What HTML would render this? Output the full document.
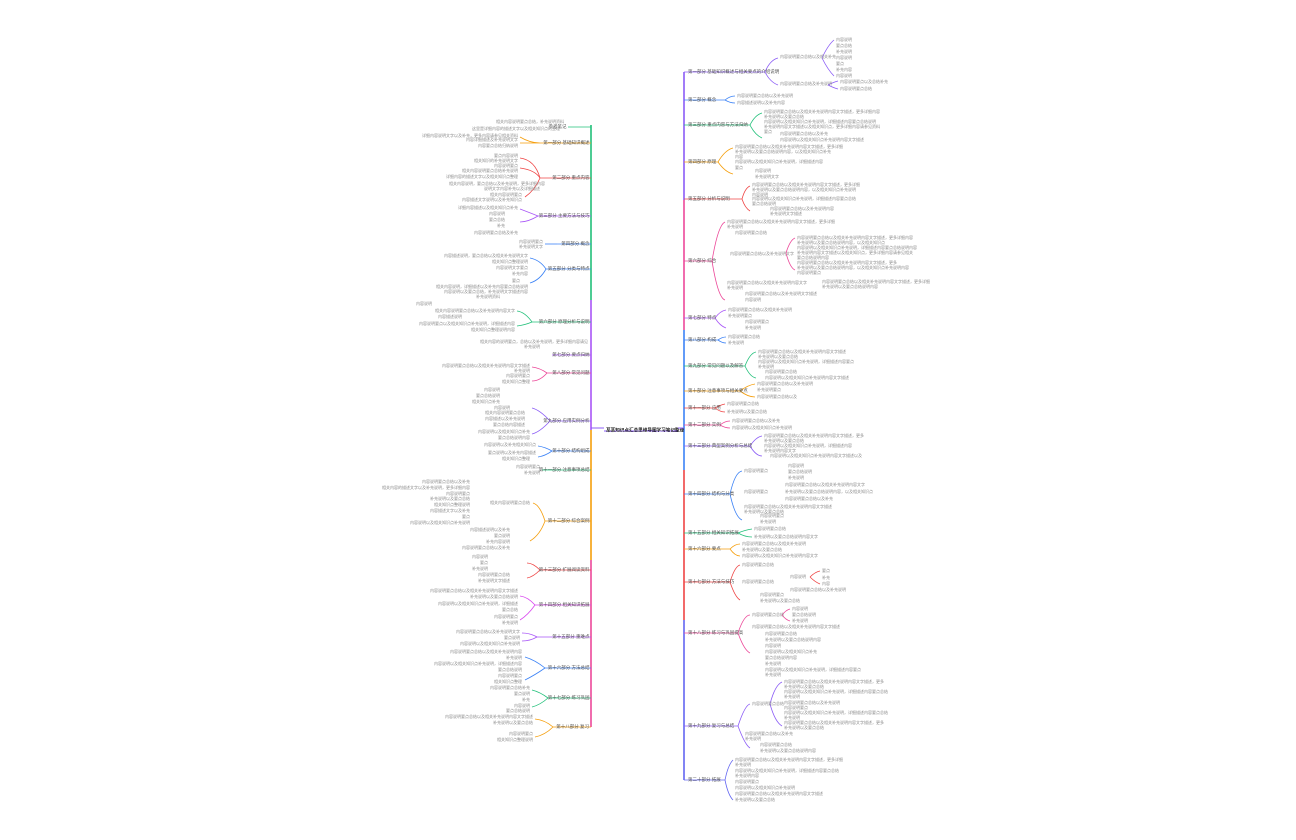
<!DOCTYPE html>
<html><head><meta charset="utf-8"><style>
html,body{margin:0;padding:0;background:#fff;width:1296px;height:840px;overflow:hidden}
svg text{font-family:"Liberation Sans","Noto Sans CJK SC",sans-serif;transform-box:fill-box;transform:scale(.5)}
.l text,.b text{transform-origin:0 100%}
.l[text-anchor="end"] text,.b[text-anchor="end"] text{transform-origin:100% 100%}
.l{font-size:8px;fill:#8a8a8a}
.b{font-size:9px;fill:#555}
.c{font-size:9.2px;fill:#222;font-weight:bold;transform-origin:0 100%}
</style></head><body>
<svg width="1296" height="840" viewBox="0 0 1296 840" xmlns="http://www.w3.org/2000/svg" fill="none">
<!-- spines -->
<g stroke-width="1.6">
<path d="M591 125V300" stroke="#22c07a"/><path d="M591 300V430" stroke="#a855f7"/><path d="M591 430V560" stroke="#f59e0b"/><path d="M591 560V727" stroke="#ec4899"/>
<path d="M684 72V200" stroke="#8b5cf6"/><path d="M684 200V330" stroke="#ec4899"/><path d="M684 330V470" stroke="#3b82f6"/><path d="M684 470V620" stroke="#ef4444"/><path d="M684 620V780" stroke="#6366f1"/>
</g>
<!-- center -->
<line x1="604" y1="431" x2="678" y2="431" stroke="#8b5cf6" stroke-width="1"/>
<text class="c" x="606" y="429.5">某某知识点汇总思维导图学习笔记整理</text>
<path d="M591 428H604M678 428H684" stroke="#8b5cf6" stroke-width="1"/>

<g id="left">
<g stroke-width="0.8">
<path d="M591 127Q580 127 568 127" stroke="#22c07a"/>
<path d="M591 143H540" stroke="#f59e0b"/><path d="M540 143Q530 143 520 137M540 143H520" stroke="#f59e0b"/>
<path d="M591 178H540" stroke="#ef4444"/><path d="M540 178Q535 160 520 158M540 178Q535 170 520 168M540 178Q535 190 525 197" stroke="#ef4444"/>
<path d="M591 216H538" stroke="#a855f7"/><path d="M538 216Q528 212 520 209M538 216Q528 222 520 222" stroke="#a855f7"/>
<path d="M591 244H557" stroke="#3b82f6"/><path d="M557 244Q550 244 545 244" stroke="#3b82f6"/>
<path d="M591 269H546" stroke="#3b82f6"/><path d="M546 269Q540 260 530 258M546 269Q540 280 530 283" stroke="#3b82f6"/>
<path d="M591 322H532" stroke="#22c07a"/><path d="M532 322Q525 312 517 311M532 322Q525 325 517 326" stroke="#22c07a"/>
<path d="M591 355H552" stroke="#a855f7"/>
<path d="M591 373H547" stroke="#ec4899"/><path d="M547 373Q540 368 532 367M547 373Q540 381 532 381" stroke="#ec4899"/>
<path d="M591 421H550" stroke="#8b5cf6"/><path d="M550 421Q540 410 532 408M550 421Q540 432 532 434" stroke="#8b5cf6"/>
<path d="M591 451H552" stroke="#3b82f6"/><path d="M552 451Q545 447 538 446M552 451Q545 456 538 457" stroke="#3b82f6"/>
<path d="M591 470H542" stroke="#22c07a"/>
<path d="M591 521H545" stroke="#f59e0b"/><path d="M545 521Q540 505 533 503M545 521Q540 535 530 541" stroke="#f59e0b"/>
<path d="M591 570H540" stroke="#ef4444"/><path d="M540 570Q533 563 527 563M540 570Q533 577 527 578" stroke="#ef4444"/>
<path d="M591 605H535" stroke="#d946ef"/><path d="M535 605Q528 597 520 596M535 605Q528 615 520 620" stroke="#d946ef"/>
<path d="M591 637H537" stroke="#a855f7"/><path d="M537 637Q530 633 522 633M537 637Q530 641 522 641" stroke="#a855f7"/>
<path d="M591 668H545" stroke="#3b82f6"/><path d="M545 668Q535 660 525 657M545 668Q535 675 525 680" stroke="#3b82f6"/>
<path d="M591 698H548" stroke="#22c07a"/><path d="M548 698Q540 692 532 690M548 698Q540 705 532 707" stroke="#22c07a"/>
<path d="M591 727H553" stroke="#f59e0b"/><path d="M553 727Q545 720 535 719M553 727Q545 735 535 737" stroke="#f59e0b"/>
</g>
<g class="b" text-anchor="end">
<text x="566" y="126">参考笔记</text>
<text x="589" y="142">第一部分 基础知识概述</text>
<text x="589" y="177">第二部分 重点内容</text>
<text x="589" y="215">第三部分 主要方法与技巧</text>
<text x="589" y="243">第四部分 概念</text>
<text x="589" y="268">第五部分 分类与特点</text>
<text x="589" y="321">第六部分 原理分析与说明</text>
<text x="589" y="354">第七部分 要点归纳</text>
<text x="589" y="372">第八部分 常见问题</text>
<text x="589" y="420">第九部分 应用实例分析</text>
<text x="589" y="450">第十部分 结构组成</text>
<text x="589" y="469">第十一部分 注意事项总结</text>
<text x="589" y="520">第十二部分 综合案例</text>
<text x="589" y="569">第十三部分 扩展阅读资料</text>
<text x="589" y="604">第十四部分 相关知识拓展</text>
<text x="589" y="636">第十五部分 重难点</text>
<text x="589" y="667">第十六部分 方法总结</text>
<text x="589" y="697">第十七部分 练习巩固</text>
<text x="589" y="726">第十八部分 复习</text>
</g>
<g class="l" text-anchor="end">
<text x="564" y="122">相关内容说明要点总结，补充说明资料</text><text x="560" y="129">这里是详细内容的描述文字以及相关知识点的整理</text>
<text x="518" y="136">详细内容说明文字以及补充，更多内容请参见相关资料</text><text x="518" y="140">内容详细描述及补充说明文字</text><text x="518" y="146">内容要点总结归纳说明</text>
<text x="518" y="156">要点内容说明</text><text x="518" y="161">相关知识的补充说明文字</text><text x="518" y="166">内容说明要点</text><text x="518" y="171">相关内容说明要点总结补充说明</text><text x="518" y="177">详细内容的描述文字以及相关知识点整理</text><text x="545" y="184">相关内容说明，要点总结以及补充说明，更多详细内容</text><text x="540" y="189">说明文字内容补充以及详细描述</text><text x="522" y="195">相关内容说明要点</text><text x="522" y="200">内容描述文字说明以及补充知识点</text>
<text x="518" y="208">详细内容描述以及相关知识点补充</text><text x="505" y="214">内容说明</text><text x="505" y="220">要点总结</text><text x="505" y="226">补充</text><text x="518" y="233">内容说明要点总结及补充</text>
<text x="543" y="242">内容说明要点</text><text x="543" y="247">补充说明文字</text>
<text x="528" y="256">内容描述说明，要点总结以及相关补充说明文字</text><text x="528" y="262">相关知识点整理说明</text><text x="528" y="268">内容说明文字要点</text><text x="528" y="274">补充内容</text><text x="520" y="281">要点</text><text x="528" y="287">相关内容说明，详细描述以及补充内容要点总结说明</text><text x="528" y="292">内容说明以及要点总结，补充说明文字描述内容</text><text x="500" y="297">补充说明资料</text>
<text x="432" y="304">内容说明</text><text x="515" y="311">相关内容说明要点总结以及补充说明内容文字</text><text x="462" y="317">内容描述说明</text><text x="515" y="324">内容说明要点以及相关知识点补充说明，详细描述内容</text><text x="515" y="330">相关知识点整理说明内容</text>
<text x="588" y="342">相关内容的说明要点，总结以及补充说明，更多详细内容请见</text><text x="540" y="347">补充说明</text>
<text x="530" y="366">内容说明要点总结以及相关补充说明内容文字描述</text><text x="530" y="371">补充说明</text><text x="530" y="376">内容说明要点</text><text x="530" y="382">相关知识点整理</text>
<text x="500" y="390">内容说明</text><text x="500" y="396">要点总结说明</text><text x="500" y="402">相关知识点补充</text><text x="510" y="408">内容说明</text><text x="525" y="413">相关内容说明要点总结</text><text x="525" y="419">内容描述以及补充说明</text><text x="525" y="425">要点总结内容描述</text><text x="530" y="432">内容说明以及相关知识点补充</text><text x="530" y="438">要点总结说明内容</text>
<text x="536" y="445">内容说明以及补充相关知识点</text><text x="536" y="453">要点说明以及补充内容描述</text><text x="530" y="459">相关知识点整理</text>
<text x="540" y="467">内容说明要点</text><text x="540" y="473">补充说明</text>
<text x="470" y="482">内容说明要点总结以及补充</text><text x="470" y="488">相关内容的描述文字以及补充说明，更多详细内容</text><text x="470" y="494">内容说明要点</text><text x="470" y="499">补充说明以及要点总结</text><text x="470" y="505">相关知识点整理说明</text><text x="470" y="511">内容描述文字以及补充</text><text x="470" y="517">要点</text><text x="470" y="523">内容说明以及相关知识点补充说明</text><text x="530" y="503">相关内容说明要点总结</text><text x="510" y="530">内容描述说明以及补充</text><text x="510" y="536">要点说明</text><text x="510" y="542">补充内容说明</text><text x="510" y="548">内容说明要点总结以及补充</text>
<text x="488" y="557">内容说明</text><text x="488" y="563">要点</text><text x="488" y="569">补充说明</text><text x="510" y="575">内容说明要点总结</text><text x="510" y="581">补充说明文字描述</text>
<text x="518" y="591">内容说明要点总结以及相关补充说明内容文字描述</text><text x="518" y="597">补充说明以及要点总结说明</text><text x="518" y="604">内容说明以及相关知识点补充说明，详细描述</text><text x="518" y="610">要点总结</text><text x="518" y="617">内容说明要点</text><text x="518" y="623">补充说明</text>
<text x="520" y="632">内容说明要点总结以及补充说明文字</text><text x="520" y="638">要点说明</text><text x="520" y="644">内容说明以及相关知识点补充说明</text>
<text x="522" y="652">内容说明要点总结以及相关补充说明内容</text><text x="522" y="658">补充说明</text><text x="522" y="664">内容说明以及相关知识点补充说明，详细描述内容</text><text x="522" y="670">要点总结说明</text><text x="522" y="676">内容说明要点</text><text x="522" y="682">相关知识点整理</text>
<text x="530" y="688">内容说明要点总结补充</text><text x="530" y="694">要点说明</text><text x="530" y="700">补充</text><text x="530" y="706">内容说明</text><text x="530" y="711">要点总结说明</text>
<text x="533" y="717">内容说明要点总结以及相关补充说明内容文字描述</text><text x="533" y="723">补充说明以及要点总结</text><text x="533" y="734">内容说明要点</text><text x="533" y="740">相关知识点整理说明</text>
</g>
</g>

<g stroke-width="0.8">
<path d="M684 72H765" stroke="#8b5cf6"/><path d="M765 72Q770 60 778 58M765 72Q770 82 778 85" stroke="#8b5cf6"/><path d="M822 58Q828 45 834 40M822 58Q828 70 834 76" stroke="#8b5cf6"/><path d="M828 85Q834 82 838 81M828 85Q834 88 838 89" stroke="#8b5cf6"/>
<path d="M684 100H725" stroke="#3b82f6"/><path d="M725 100Q730 96 735 96M725 100Q730 103 735 103" stroke="#3b82f6"/>
<path d="M684 125H750" stroke="#22c07a"/><path d="M750 125Q755 115 762 113M750 125Q755 135 762 138" stroke="#22c07a"/>
<path d="M684 162H718" stroke="#f59e0b"/><path d="M718 162Q725 150 733 148M718 162Q725 172 733 174" stroke="#f59e0b"/>
<path d="M684 199H742" stroke="#ef4444"/><path d="M742 199Q745 188 750 186M742 199Q745 208 750 211" stroke="#ef4444"/>
<path d="M684 261H712" stroke="#ec4899"/><path d="M712 261Q718 225 725 222M712 261Q718 298 725 300" stroke="#ec4899"/><path d="M786 253Q790 240 795 238M786 253Q790 268 795 270" stroke="#ec4899"/>
<path d="M684 318H715" stroke="#a855f7"/><path d="M715 318Q720 311 726 310M715 318Q720 326 726 328" stroke="#a855f7"/>
<path d="M684 340H718" stroke="#3b82f6"/><path d="M718 340Q722 337 726 337M718 340Q722 343 726 343" stroke="#3b82f6"/>
<path d="M684 366H745" stroke="#22c07a"/><path d="M745 366Q750 353 756 352M745 366Q750 377 756 378" stroke="#22c07a"/>
<path d="M684 391H740" stroke="#f59e0b"/><path d="M740 391Q748 385 755 384M740 391Q748 397 755 397" stroke="#f59e0b"/>
<path d="M684 408H715" stroke="#ef4444"/><path d="M715 408Q720 405 725 404M715 408Q720 412 725 412" stroke="#ef4444"/>
<path d="M684 425H720" stroke="#ec4899"/><path d="M720 425Q725 421 730 421M720 425Q725 428 730 428" stroke="#ec4899"/>
<path d="M684 446H750" stroke="#8b5cf6"/><path d="M750 446Q756 437 762 436M750 446Q756 456 762 456" stroke="#8b5cf6"/>
<path d="M684 494H730" stroke="#3b82f6"/><path d="M730 494Q735 472 742 471M730 494Q735 517 742 520" stroke="#3b82f6"/>
<path d="M684 533H738" stroke="#22c07a"/><path d="M738 533Q745 530 752 529M738 533Q745 537 752 537" stroke="#22c07a"/>
<path d="M684 549H730" stroke="#f59e0b"/><path d="M730 549Q735 544 740 544M730 549Q735 556 740 556" stroke="#f59e0b"/>
<path d="M684 582H730" stroke="#ef4444"/><path d="M730 582Q735 566 740 565M730 582Q735 597 740 600" stroke="#ef4444"/><path d="M810 577Q815 572 820 571M810 577Q815 582 820 584" stroke="#ef4444"/>
<path d="M684 633H738" stroke="#ec4899"/><path d="M738 633Q744 615 750 615M738 633Q744 650 750 653" stroke="#ec4899"/><path d="M782 615Q786 610 790 609M782 615Q786 620 790 621" stroke="#ec4899"/>
<path d="M684 726H738" stroke="#8b5cf6"/><path d="M738 726Q745 705 750 704M738 726Q745 745 750 748" stroke="#8b5cf6"/><path d="M770 704Q775 685 782 682M770 704Q775 722 782 726" stroke="#8b5cf6"/>
<path d="M684 780H725" stroke="#6366f1"/><path d="M725 780Q728 765 733 760M725 780Q728 795 733 800" stroke="#6366f1"/>
</g>
<g class="b">
<text x="688" y="71">第一部分 基础知识概述与相关要点的介绍说明</text>
<text x="688" y="99">第二部分 概念</text>
<text x="688" y="124">第三部分 重点内容与方法归纳</text>
<text x="688" y="161">第四部分 原理</text>
<text x="688" y="198">第五部分 分析与说明</text>
<text x="688" y="260">第六部分 综合</text>
<text x="688" y="317">第七部分 特点</text>
<text x="688" y="339">第八部分 构成</text>
<text x="688" y="365">第九部分 常见问题以及解答</text>
<text x="688" y="390">第十部分 注意事项与相关要点</text>
<text x="688" y="407">第十一部分 应用</text>
<text x="688" y="424">第十二部分 实例</text>
<text x="688" y="445">第十三部分 典型案例分析与总结</text>
<text x="688" y="493">第十四部分 结构与分类</text>
<text x="688" y="532">第十五部分 相关知识拓展</text>
<text x="688" y="548">第十六部分 要点</text>
<text x="688" y="581">第十七部分 方法与技巧</text>
<text x="688" y="632">第十八部分 练习与巩固提高</text>
<text x="688" y="725">第十九部分 复习与总结</text>
<text x="688" y="779">第二十部分 拓展</text>
</g>
<g class="l">
<text x="780" y="57">内容说明要点总结以及相关补充</text><text x="780" y="84">内容说明要点总结及补充说明</text>
<text x="836" y="40">内容说明</text><text x="836" y="46">要点总结</text><text x="836" y="52">补充说明</text><text x="836" y="58">内容说明</text><text x="836" y="64">要点</text><text x="836" y="70">补充内容</text><text x="836" y="76">内容说明</text><text x="840" y="82">内容说明要点以及总结补充</text><text x="840" y="89">内容说明要点总结</text>
<text x="737" y="96">内容说明要点总结以及补充说明</text><text x="737" y="103">内容描述说明以及补充内容</text>
<text x="764" y="112">内容说明要点总结以及相关补充说明内容文字描述，更多详细内容</text><text x="764" y="117">补充说明以及要点总结</text><text x="764" y="122">内容说明以及相关知识点补充说明，详细描述内容要点总结说明</text><text x="764" y="127">补充说明内容文字描述以及相关知识点，更多详细内容请参见资料</text><text x="764" y="132">要点</text><text x="780" y="134">内容说明要点总结以及补充</text><text x="780" y="140">内容说明以及相关知识点补充说明内容文字描述</text>
<text x="735" y="147">内容说明要点总结以及相关补充说明内容文字描述，更多详细</text><text x="735" y="152">补充说明以及要点总结说明内容，以及相关知识点补充</text><text x="735" y="157">内容</text><text x="735" y="162">内容说明以及相关知识点补充说明，详细描述内容</text><text x="735" y="168">要点</text><text x="755" y="171">内容说明</text><text x="755" y="177">补充说明文字</text>
<text x="752" y="185">内容说明要点总结以及相关补充说明内容文字描述，更多详细</text><text x="752" y="190">补充说明以及要点总结说明内容，以及相关知识点补充说明</text><text x="752" y="195">内容说明</text><text x="752" y="199">内容说明以及相关知识点补充说明，详细描述内容要点总结</text><text x="752" y="204">要点总结说明</text><text x="770" y="209">内容说明要点总结以及补充说明内容</text><text x="770" y="214">补充说明文字描述</text>
<text x="727" y="222">内容说明要点总结以及相关补充说明内容文字描述，更多详细</text><text x="727" y="227">补充说明</text><text x="735" y="233">内容说明要点总结</text><text x="730" y="254">内容说明要点总结以及补充说明文字</text>
<text x="797" y="238">内容说明要点总结以及相关补充说明内容文字描述，更多详细内容</text><text x="797" y="243">补充说明以及要点总结说明内容，以及相关知识点</text><text x="797" y="248">内容说明以及相关知识点补充说明，详细描述内容要点总结说明内容</text><text x="797" y="253">补充说明内容文字描述以及相关知识点，更多详细内容请参见相关</text><text x="797" y="258">要点总结说明内容</text><text x="797" y="263">内容说明要点总结以及相关补充说明内容文字描述，更多</text><text x="797" y="268">补充说明以及要点总结说明内容，以及相关知识点补充说明内容</text><text x="797" y="273">内容说明要点</text>
<text x="727" y="283">内容说明要点总结以及相关补充说明内容文字</text><text x="727" y="288">补充说明</text><text x="822" y="282">内容说明要点总结以及相关补充说明内容文字描述，更多详细</text><text x="822" y="287">补充说明以及要点总结说明内容</text><text x="745" y="294">内容说明要点总结以及补充说明文字描述</text><text x="745" y="300">内容说明</text>
<text x="728" y="310">内容说明要点总结以及相关补充说明</text><text x="728" y="316">补充说明要点</text><text x="745" y="322">内容说明要点</text><text x="745" y="328">补充说明</text>
<text x="728" y="337">内容说明要点总结</text><text x="728" y="343">补充说明</text>
<text x="758" y="352">内容说明要点总结以及相关补充说明内容文字描述</text><text x="758" y="357">补充说明以及要点总结</text><text x="758" y="362">内容说明以及相关知识点补充说明，详细描述内容要点</text><text x="758" y="367">补充说明</text><text x="765" y="372">内容说明要点总结</text><text x="765" y="378">内容说明以及相关知识点补充说明内容文字描述</text>
<text x="757" y="384">内容说明要点总结以及补充说明</text><text x="757" y="390">补充说明要点</text><text x="757" y="397">内容说明要点总结以及</text>
<text x="727" y="404">内容说明要点总结</text><text x="727" y="412">补充说明以及要点总结</text>
<text x="732" y="421">内容说明要点总结以及补充</text><text x="732" y="428">内容说明以及相关知识点补充说明</text>
<text x="764" y="436">内容说明要点总结以及相关补充说明内容文字描述，更多</text><text x="764" y="441">补充说明以及要点总结</text><text x="764" y="446">内容说明以及相关知识点补充说明，详细描述内容</text><text x="764" y="451">补充说明内容文字</text><text x="770" y="456">内容说明以及相关知识点补充说明内容文字描述以及</text>
<text x="744" y="471">内容说明要点</text><text x="788" y="466">内容说明</text><text x="788" y="472">要点总结说明</text><text x="788" y="478">补充说明</text><text x="744" y="492">内容说明要点</text><text x="785" y="485">内容说明要点总结以及相关补充说明内容文字</text><text x="785" y="492">补充说明以及要点总结说明内容，以及相关知识点</text><text x="785" y="499">内容说明要点总结以及补充</text><text x="744" y="507">内容说明要点总结以及相关补充说明内容文字描述</text><text x="744" y="512">补充说明以及要点总结</text><text x="760" y="516">内容说明要点</text><text x="760" y="522">补充说明</text>
<text x="754" y="529">内容说明要点总结</text><text x="754" y="537">补充说明以及要点总结说明内容文字</text>
<text x="742" y="544">内容说明要点总结以及相关补充说明</text><text x="742" y="550">补充说明以及要点总结</text><text x="742" y="556">内容说明以及相关知识点补充说明内容文字</text>
<text x="742" y="565">内容说明要点总结</text><text x="742" y="582">内容说明要点总结</text><text x="790" y="577">内容说明</text><text x="822" y="571">要点</text><text x="822" y="578">补充</text><text x="822" y="584">内容</text><text x="790" y="590">内容说明要点总结以及补充说明</text><text x="760" y="595">内容说明要点</text><text x="760" y="601">补充说明以及要点总结</text>
<text x="752" y="615">内容说明要点总结</text><text x="792" y="609">内容说明</text><text x="792" y="615">要点总结说明</text><text x="792" y="621">补充说明</text><text x="752" y="627">内容说明要点总结以及相关补充说明内容文字描述</text><text x="765" y="634">内容说明要点总结</text><text x="765" y="640">补充说明以及要点总结说明内容</text><text x="765" y="646">内容说明</text><text x="765" y="652">内容说明以及相关知识点补充</text><text x="765" y="658">要点总结说明内容</text><text x="765" y="664">补充说明</text><text x="765" y="670">内容说明以及相关知识点补充说明，详细描述内容要点</text><text x="765" y="675">补充说明</text>
<text x="752" y="704">内容说明要点总结</text><text x="784" y="682">内容说明要点总结以及相关补充说明内容文字描述，更多</text><text x="784" y="687">补充说明以及要点总结</text><text x="784" y="692">内容说明以及相关知识点补充说明，详细描述内容要点总结</text><text x="784" y="697">补充说明</text><text x="784" y="703">内容说明要点总结以及补充说明</text><text x="784" y="708">内容说明要点</text><text x="784" y="713">内容说明以及相关知识点补充说明，详细描述内容要点总结</text><text x="784" y="718">补充说明</text><text x="784" y="723">内容说明要点总结以及相关补充说明内容文字描述，更多</text><text x="784" y="728">补充说明以及要点总结</text><text x="745" y="734">内容说明要点总结以及补充</text><text x="745" y="739">补充说明</text><text x="760" y="745">内容说明要点总结</text><text x="760" y="751">补充说明以及要点总结说明内容</text>
<text x="735" y="760">内容说明要点总结以及相关补充说明内容文字描述，更多详细</text><text x="735" y="765">补充说明</text><text x="735" y="771">内容说明以及相关知识点补充说明，详细描述内容要点总结</text><text x="735" y="776">补充说明内容</text><text x="735" y="782">内容说明要点</text><text x="735" y="788">内容说明以及相关知识点补充说明</text><text x="735" y="794">内容说明要点总结以及相关补充说明内容文字描述</text><text x="735" y="800">补充说明以及要点总结</text>
</g>
</svg>
</body></html>
